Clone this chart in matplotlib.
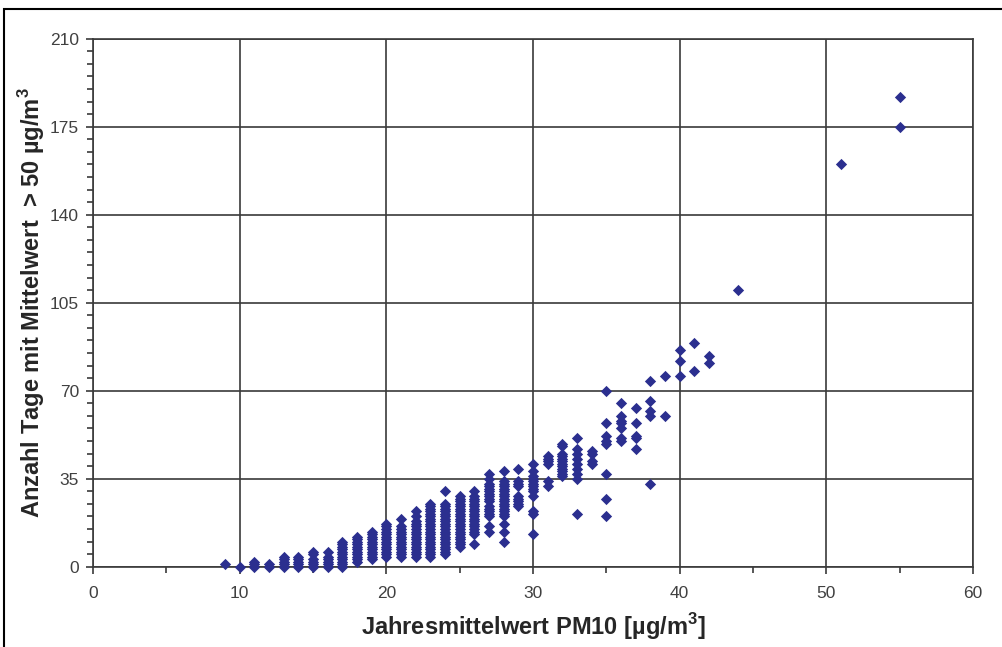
import matplotlib
matplotlib.use("Agg")
import matplotlib.pyplot as plt
from matplotlib.ticker import MultipleLocator
from matplotlib.patches import Rectangle

plt.rcParams["font.family"] = ["Liberation Sans", "DejaVu Sans"]
plt.rcParams["mathtext.fontset"] = "custom"
plt.rcParams["mathtext.rm"] = "Liberation Sans"
plt.rcParams["mathtext.bf"] = "Liberation Sans:bold"

# annual mean PM10 (x) and the number of days > 50 µg/m³
pm10_values = [9, 10, 11, 12, 13, 14, 15, 16, 17, 18, 19, 20, 21, 22, 23, 24, 25,
               26, 27, 28, 29, 30, 31, 32, 33, 34, 35, 36, 37, 38, 39, 40, 41, 42,
               44, 51, 55]
days_per_column = [
    [1],
    [0],
    [0, 1, 2],
    [0, 1],
    [0, 1, 2, 3, 4],
    [0, 1, 2, 3, 4],
    [0, 1, 2, 3, 5, 6],
    [0, 1, 2, 3, 4, 6],
    [0, 1, 2, 3, 4, 5, 6, 7, 8, 9, 10],
    [2, 3, 4, 5, 6, 7, 8, 9, 10, 11, 12],
    [3, 4, 5, 6, 7, 8, 9, 10, 11, 12, 13, 14],
    [4, 5, 6, 7, 8, 9, 10, 11, 12, 13, 14, 15, 16, 17],
    [4, 5, 6, 7, 8, 9, 10, 11, 12, 13, 14, 15, 16, 19],
    [4, 5, 6, 7, 8, 9, 10, 11, 12, 13, 14, 15, 16, 17, 18, 20, 22],
    [4, 5, 6, 7, 8, 9, 10, 11, 12, 13, 14, 15, 16, 17, 18, 19, 20, 21, 22,
     23, 24, 25],
    [5, 6, 7, 8, 9, 10, 11, 12, 13, 14, 15, 16, 17, 18, 19, 20, 21, 22, 23,
     24, 25, 30],
    [8, 9, 10, 11, 12, 13, 14, 15, 16, 17, 18, 19, 20, 21, 22, 23, 24, 25,
     26, 27, 28],
    [9, 13, 14, 15, 16, 17, 18, 19, 20, 21, 22, 23, 24, 25, 26, 27, 28, 30],
    [14, 16, 20, 21, 22, 23, 24, 26, 27, 28, 29, 30, 31, 32, 33, 35, 37],
    [10, 14, 17, 20, 21, 22, 23, 24, 25, 26, 27, 28, 29, 30, 31, 32, 33, 34, 38],
    [24, 25, 26, 27, 28, 32, 33, 34, 39],
    [13, 21, 22, 28, 30, 31, 32, 33, 34, 35, 36, 38, 41],
    [32, 34, 41, 42, 43, 44],
    [36, 37, 38, 39, 40, 41, 42, 43, 44, 45, 48, 49],
    [21, 35, 37, 39, 41, 43, 45, 47, 51],
    [41, 42, 45, 46],
    [20, 27, 37, 49, 50, 52, 57, 70],
    [50, 51, 55, 57, 58, 60, 65],
    [47, 51, 52, 57, 63],
    [33, 60, 62, 66, 74],
    [60, 76],
    [76, 82, 86],
    [78, 89],
    [81, 84],
    [110],
    [160],
    [175, 187],
]

x_label = r"Jahresmittelwert PM10 [µg/m$^\mathbf{3}$]"
y_label = r"Anzahl Tage mit Mittelwert  > 50 µg/m$^\mathbf{3}$"

x = [pm for pm, col in zip(pm10_values, days_per_column) for _ in col]
y = [d for col in days_per_column for d in col]

fig = plt.figure(figsize=(10.03, 6.47), dpi=100)
ax = fig.add_axes([0.0927, 0.1241, 0.8773, 0.8161])

ax.scatter(x, y, marker="D", s=33, color="#2B2F8F", linewidths=0,
           zorder=3, clip_on=False)

ax.set_xlim(0, 60)
ax.set_ylim(0, 210)
ax.xaxis.set_major_locator(MultipleLocator(10))
ax.xaxis.set_minor_locator(MultipleLocator(5))
ax.yaxis.set_major_locator(MultipleLocator(35))
ax.yaxis.set_minor_locator(MultipleLocator(5))

ax.grid(True, which="major", color="#3a3a3a", linewidth=1.2)
ax.set_axisbelow(True)
for sp in ax.spines.values():
    sp.set_color("#3a3a3a")
    sp.set_linewidth(1.2)

ax.tick_params(axis="x", which="major", direction="out", length=5, width=1.2,
               color="#3a3a3a", pad=9, labelsize=12.5, labelcolor="#404040")
ax.tick_params(axis="x", which="minor", direction="out", length=4, width=1.2,
               color="#3a3a3a")
ax.tick_params(axis="y", which="major", direction="out", length=5, width=1.2,
               color="#3a3a3a", pad=5, labelsize=12.5, labelcolor="#404040")
ax.tick_params(axis="y", which="minor", direction="out", length=4, width=1.2,
               color="#3a3a3a")

ax.set_xlabel(x_label, fontsize=17, fontweight="bold", color="#262626",
              labelpad=7)
ax.set_ylabel(y_label, fontsize=17, fontweight="bold", color="#262626",
              labelpad=2)

# outer frame of the original figure
fig.add_artist(Rectangle((0.004, -0.05), 1.05, 1.036, transform=fig.transFigure,
                         fill=False, edgecolor="black", linewidth=1.5))

fig.savefig("out.png", dpi=100)
